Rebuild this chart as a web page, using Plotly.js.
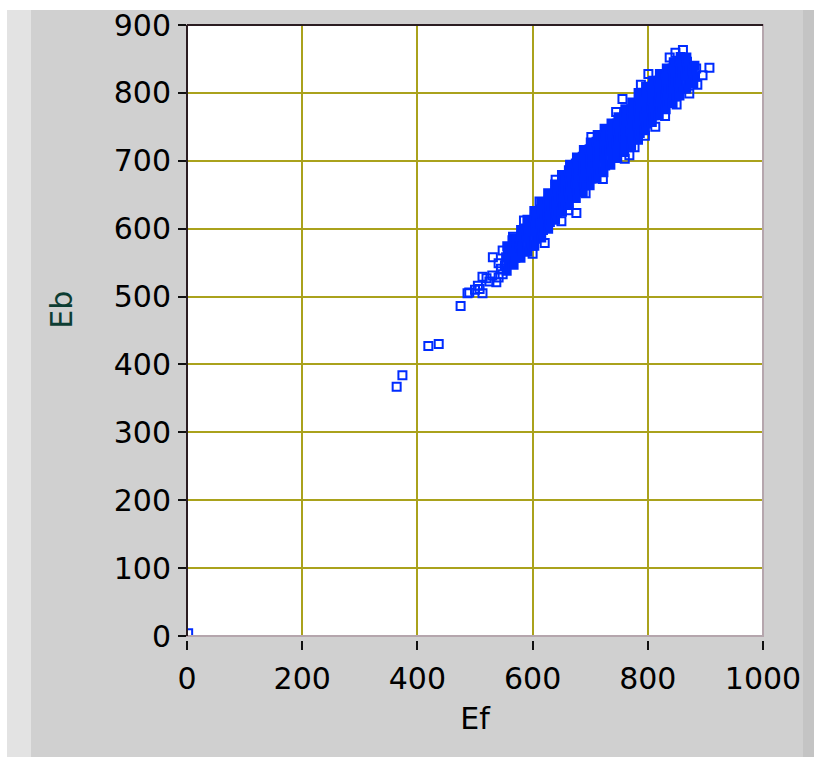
<!DOCTYPE html>
<html>
<head>
<meta charset="utf-8">
<script src="https://cdn.plot.ly/plotly-3.0.1.min.js"></script>
<style>
  html, body { margin: 0; padding: 0; background: #ffffff; }
  #wrap { position: relative; width: 814px; height: 757px; overflow: hidden; }
  .bg { position: absolute; }
  #chart { position: absolute; left: 0; top: 0; width: 814px; height: 757px; }
</style>
</head>
<body>
<div id="wrap">
  <div class="bg" style="left:7px; top:10px; width:807px; height:747px; background:#d0d0d0;"></div>
  <div class="bg" style="left:7px; top:10px; width:24px; height:747px; background:#e3e3e3;"></div>
  <div class="bg" style="left:803px; top:10px; width:11px; height:747px; background:#c4c4c4;"></div>
  <div id="chart"></div>
</div>
<script>
// ---- tick labels ----
const xTickVals = [0, 200, 400, 600, 800, 1000];
const yTickVals = [0, 100, 200, 300, 400, 500, 600, 700, 800, 900];

// ---- dense core of the Ef/Eb cloud (heavily overplotted points) ----
const efDense = [
  555,558,554,557,556,
  567,570,566,569,568,
  579,582,578,581,580,
  591,594,590,593,592,591,
  603,606,602,605,604,603,
  615,618,614,617,616,615,
  627,630,626,629,628,627,
  639,642,638,641,640,639,
  651,654,650,653,652,651,
  663,666,662,665,664,663,665,
  675,678,674,677,676,675,677,
  687,690,686,689,688,687,689,
  699,702,698,701,700,699,701,
  711,714,710,713,712,711,713,
  723,726,722,725,724,723,725,
  735,738,734,737,736,735,737,
  747,750,746,749,748,747,749,
  759,762,758,761,760,759,761,
  771,774,770,773,772,771,773,
  783,786,782,785,784,783,785,784,
  795,798,794,797,796,795,797,
  807,810,806,809,808,807,809,
  819,822,818,821,820,819,821,
  831,834,830,833,832,831,833,
  843,846,842,845,844,843,845,
  855,858,854,857,856,855,857,
  867,870,866,869,868,867,
  879,882,878,881
];
const ebDense = [
  538,548,558,567,574,
  547,557,567,577,586,
  557,567,578,589,598,
  566,576,587,597,606,613,
  575,585,596,606,617,626,
  587,598,608,619,629,639,
  600,610,621,631,642,652,
  613,623,634,645,655,665,
  625,636,647,658,669,679,
  635,646,656,667,677,686,694,
  645,655,666,676,686,696,705,
  654,664,675,685,695,706,716,
  664,674,685,696,706,717,727,
  674,684,695,706,717,728,738,
  683,693,704,715,726,737,747,
  694,704,715,726,736,746,755,
  704,714,725,735,745,755,764,
  713,723,734,745,756,766,776,
  722,732,743,754,765,776,786,
  731,741,752,763,774,785,795,800,
  745,755,766,777,788,799,809,
  757,767,778,789,799,809,818,
  767,777,788,798,808,818,828,
  776,786,797,807,817,827,836,
  785,795,806,816,826,836,845,
  796,806,816,826,836,846,853,
  806,816,826,836,846,852,
  814,824,833,840
];

// ---- scattered / edge points ----
const efSparse = [2, 364, 374, 419, 437, 475, 487, 490, 508, 513, 520, 537, 531, 513, 500, 505, 525, 530, 541, 545, 548, 552, 541, 548, 565, 621, 692, 676, 650, 777, 756, 850, 813, 801, 907, 895, 861, 848, 585, 640, 702, 745, 788, 838, 600, 662, 722, 768, 795, 830, 872, 886, 884, 760, 612, 566];
const ebSparse = [4, 367, 384, 427, 430, 486, 505, 506, 511, 505, 527, 521, 558, 529, 510, 516, 522, 531, 528, 541, 533, 546, 549, 568, 583, 579, 652, 623, 611, 720, 791, 783, 750, 828, 837, 826, 863, 859, 612, 672, 735, 772, 812, 852, 563, 627, 673, 708, 737, 766, 799, 812, 836, 703, 640, 588];

const blue = 'rgb(0,44,255)';
const gridCol = '#aaa21c';
const darkLine = '#2b1d22';
const lightLine = '#b5a6ad';
const fam = 'DejaVu Sans, Verdana, sans-serif';
const tickFont = {family: fam, size: 30, color: '#000000'};

const traces = [
  {
    type: 'scatter', mode: 'markers', x: efDense, y: ebDense, name: 'Ef/Eb',
    marker: {symbol: 'square', size: 8, color: blue, line: {color: blue, width: 2}},
    hoverinfo: 'x+y'
  },
  {
    type: 'scatter', mode: 'markers', x: efSparse, y: ebSparse, name: 'Ef/Eb',
    marker: {symbol: 'square-open', size: 8, color: blue, line: {color: blue, width: 2}},
    hoverinfo: 'x+y'
  }
];

const layout = {
  width: 814, height: 757,
  margin: {l: 187, r: 51, t: 25, b: 117, pad: 0},
  paper_bgcolor: 'rgba(0,0,0,0)',
  plot_bgcolor: '#ffffff',
  showlegend: false,
  xaxis: {
    range: [0, 1000], anchor: 'free', position: 0,
    tickvals: xTickVals, ticktext: xTickVals.map(String),
    showgrid: true, gridcolor: gridCol, gridwidth: 2,
    zeroline: false, showline: false,
    ticks: 'outside', ticklen: 9, tickwidth: 2, tickcolor: '#111111',
    tickfont: tickFont, ticklabelstandoff: 3,
    title: {text: 'Ef', font: {family: fam, size: 30, color: '#000000'}, standoff: 12},
    automargin: false, fixedrange: true
  },
  yaxis: {
    range: [0, 900], domain: [0.0065, 1], anchor: 'x',
    tickvals: yTickVals, ticktext: yTickVals.map(String),
    showgrid: true, gridcolor: gridCol, gridwidth: 2,
    zeroline: false, showline: false,
    ticks: 'outside', ticklen: 8, tickwidth: 2, tickcolor: '#111111',
    tickfont: tickFont, ticklabelstandoff: 1,
    automargin: false, fixedrange: true
  },
  annotations: [
    {text: 'Eb', xref: 'paper', yref: 'paper', x: -0.217, y: 0.537,
     xanchor: 'center', yanchor: 'middle', textangle: -90, showarrow: false,
     font: {family: fam, size: 30, color: '#0d3d33'}}
  ],
  shapes: [
    {type: 'rect', xref: 'x domain', yref: 'y domain', x0: 0, x1: 1, y0: 0, y1: 1,
     line: {color: lightLine, width: 2}, fillcolor: 'rgba(0,0,0,0)', layer: 'above'},
    {type: 'line', xref: 'x domain', yref: 'y domain', x0: 0, x1: 0, y0: 0, y1: 1,
     line: {color: darkLine, width: 2}, layer: 'above'},
    {type: 'line', xref: 'x domain', yref: 'y domain', x0: 0, x1: 1, y0: 1, y1: 1,
     line: {color: darkLine, width: 2}, layer: 'above'}
  ]
};

Plotly.newPlot('chart', traces, layout, {displayModeBar: false, staticPlot: true});
</script>
</body>
</html>
